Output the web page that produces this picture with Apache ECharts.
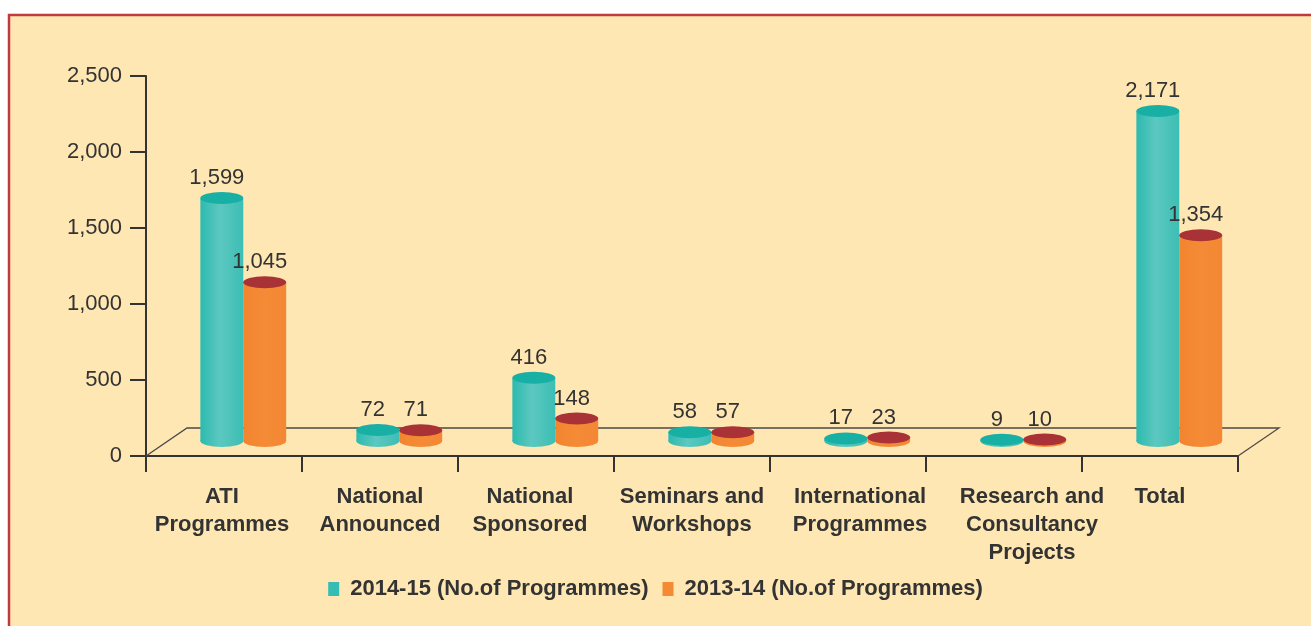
<!DOCTYPE html>
<html>
<head>
<meta charset="utf-8">
<script src="https://cdn.jsdelivr.net/npm/echarts@6/dist/echarts.min.js"></script>
<style>
html,body{margin:0;padding:0;background:#ffffff;}
#chart{width:1311px;height:626px;}
</style>
</head>
<body>
<div id="chart"></div>
<script>
// ---- data ----
const categories = [
  'ATI\nProgrammes',
  'National\nAnnounced',
  'National\nSponsored',
  'Seminars and\nWorkshops',
  'International\nProgrammes',
  'Research and\nConsultancy\nProjects',
  'Total'
];
const seriesNames = ['2014-15 (No.of Programmes)', '2013-14 (No.of Programmes)'];
const values2014 = [1599, 72, 416, 58, 17, 9, 2171];
const values2013 = [1045, 71, 148, 57, 23, 10, 1354];
const yTicks = [0, 500, 1000, 1500, 2000, 2500];

// ---- style ----
const FONT = '"Liberation Sans", Arial, Helvetica, sans-serif';
const TXT = '#333333';
const BG = '#FEE7B2';
const DEPTH_X = 41, DEPTH_Y = -28;
// horizontal nudges of the category labels (px), as in the reference layout
const labelNudge = [-2, 0, -6, 0, 12, 28, 0];

const palettes = [
  { side: new echarts.graphic.LinearGradient(0, 0, 1, 0, [
      {offset: 0, color: '#2CBAAF'}, {offset: 0.45, color: '#5CC8C0'}, {offset: 1, color: '#3CBEB4'}]),
    top: '#18AFA4', legend: '#35BDB3' },
  { side: new echarts.graphic.LinearGradient(0, 0, 1, 0, [
      {offset: 0, color: '#F2842F'}, {offset: 0.5, color: '#F58B37'}, {offset: 1, color: '#F48733'}]),
    top: '#A83236', legend: '#F58A35' }
];

function fmt(v) { return v.toLocaleString('en-US'); }

function renderCylinder(params, api) {
  const cat = api.value(0), val = api.value(1);
  const base = api.coord([cat, 0]);
  const top = api.coord([cat, val]);
  const cw = api.size([1, 0])[0];
  const bw = cw * 0.275;
  const rx = bw / 2, ry = 6;
  const s = params.seriesIndex;
  const shiftX = DEPTH_X * 0.47;
  const shiftY = -15;
  const cx = base[0] + shiftX + (s === 0 ? -rx : rx);
  const yb = base[1] + shiftY;
  const yt = top[1] + shiftY;
  const pal = palettes[s];
  return {
    type: 'group',
    children: [
      { type: 'circle', shape: {cx: 0, cy: 0, r: rx}, x: cx, y: yb, scaleY: ry / rx,
        style: {fill: pal.side} },
      { type: 'rect', shape: {x: cx - rx, y: yt, width: bw, height: Math.max(yb - yt, 0.1)},
        style: {fill: pal.side} },
      { type: 'circle', shape: {cx: 0, cy: 0, r: rx}, x: cx, y: yt, scaleY: ry / rx,
        style: {fill: pal.top} },
      { type: 'text', x: cx - 5, y: yt - ry - 3,
        style: {text: fmt(val), align: 'center', verticalAlign: 'bottom',
                font: '22px ' + FONT, fill: TXT} }
    ]
  };
}

const chart = echarts.init(document.getElementById('chart'), null, {renderer: 'canvas'});

const option = {
  backgroundColor: '#ffffff',
  animation: false,
  grid: {left: 146, right: 73, top: 76, bottom: 170, containLabel: false},
  legend: {
    left: 'center', top: 573,
    icon: 'rect', itemWidth: 11, itemHeight: 14, itemGap: 14,
    textStyle: {fontFamily: FONT, fontWeight: 'bold', fontSize: 22, color: TXT, padding: [0, 0, 0, 6]},
    data: [
      {name: seriesNames[0], itemStyle: {color: palettes[0].legend}},
      {name: seriesNames[1], itemStyle: {color: palettes[1].legend}}
    ]
  },
  xAxis: {
    type: 'category',
    data: categories.map((c, i) => ({
      value: c,
      textStyle: {padding: labelNudge[i] >= 0 ? [0, 0, 0, 2 * labelNudge[i]] : [0, -2 * labelNudge[i], 0, 0]}
    })),
    axisLine: {lineStyle: {color: '#333', width: 2}},
    axisTick: {show: true, alignWithLabel: false, length: 16, lineStyle: {color: '#333', width: 2}},
    axisLabel: {interval: 0, margin: 27, fontFamily: FONT, fontWeight: 'bold', fontSize: 22,
                lineHeight: 28, color: TXT, verticalAlign: 'top'},
    splitLine: {show: false}
  },
  yAxis: {
    type: 'value', min: yTicks[0], max: yTicks[yTicks.length - 1], interval: yTicks[1] - yTicks[0],
    axisLine: {show: true, lineStyle: {color: '#333', width: 2}},
    axisTick: {show: true, length: 16, lineStyle: {color: '#333', width: 2}},
    axisLabel: {margin: 24, fontFamily: FONT, fontSize: 22, color: TXT, formatter: v => fmt(v)},
    splitLine: {show: false}
  },
  series: [
    {name: seriesNames[0], type: 'custom', renderItem: renderCylinder, z: 3,
     itemStyle: {color: palettes[0].legend},
     encode: {x: 0, y: 1}, data: values2014.map((v, i) => [i, v])},
    {name: seriesNames[1], type: 'custom', renderItem: renderCylinder, z: 3,
     itemStyle: {color: palettes[1].legend},
     encode: {x: 0, y: 1}, data: values2013.map((v, i) => [i, v])}
  ]
};
chart.setOption(option);

// decorative frame and 3D floor derived from the grid
const rect = chart.getModel().getComponent('grid').coordinateSystem.getRect();
const y0 = chart.convertToPixel({yAxisIndex: 0}, 0);
const x0 = rect.x, x1 = rect.x + rect.width;
chart.setOption({
  graphic: [
    {type: 'rect', z: -10, silent: true, shape: {x: 9, y: 15, width: 1400, height: 700},
     style: {fill: BG, stroke: '#C1393E', lineWidth: 2.5}},
    {type: 'polyline', z: 1, silent: true,
     shape: {points: [[x0, y0], [x0 + DEPTH_X, y0 + DEPTH_Y], [x1 + DEPTH_X, y0 + DEPTH_Y], [x1, y0]]},
     style: {stroke: '#4a4a4a', lineWidth: 1.3, fill: null}}
  ]
});
</script>
</body>
</html>
